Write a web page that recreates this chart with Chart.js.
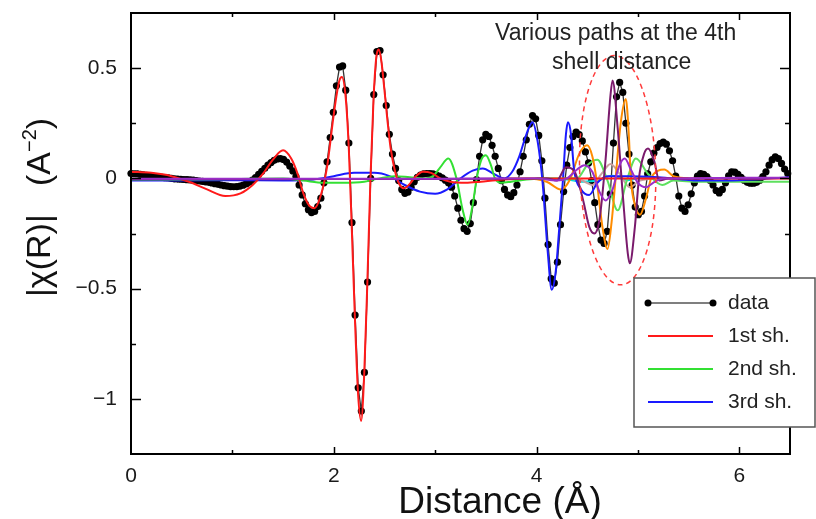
<!DOCTYPE html>
<html>
<head>
<meta charset="utf-8">
<script src="https://cdn.jsdelivr.net/npm/chart.js@4.4.1/dist/chart.umd.min.js"></script>
<style>
  html, body { margin: 0; padding: 0; background: #fff; }
  canvas { display: block; }
</style>
</head>
<body>
<canvas id="chart" width="816" height="519"></canvas>
<script>
// measured |chi(R)|, sampled every R_STEP angstrom starting at 0
const R_STEP = 0.0307;
const chiData = [
  0.022, 0.021, 0.020, 0.018, 0.016, 0.014, 0.012, 0.010, 0.008, 0.006,
  0.005, 0.003, 0.002, 0.000, -0.002, -0.003, -0.004, -0.005, -0.006, -0.007,
  -0.008, -0.010, -0.012, -0.014, -0.016, -0.018, -0.021, -0.024, -0.027, -0.030,
  -0.033, -0.035, -0.037, -0.038, -0.037, -0.035, -0.031, -0.025, -0.018, -0.008,
  0.004, 0.018, 0.032, 0.046, 0.060, 0.072, 0.082, 0.088, 0.090, 0.086,
  0.074, 0.056, 0.034, 0.008, -0.030, -0.075, -0.115, -0.142, -0.155, -0.150,
  -0.128, -0.090, -0.020, 0.075, 0.185, 0.300, 0.420, 0.505, 0.510, 0.400,
  0.160, -0.200, -0.620, -0.950, -1.055, -0.880, -0.470, 0.000, 0.380, 0.575,
  0.580, 0.470, 0.330, 0.200, 0.110, 0.045, -0.010, -0.050, -0.068, -0.062,
  -0.040, -0.015, 0.005, 0.015, 0.020, 0.022, 0.022, 0.020, 0.016, 0.010,
  0.002, -0.008, -0.020, -0.040, -0.080, -0.135, -0.190, -0.228, -0.240, -0.205,
  -0.110, -0.005, 0.100, 0.175, 0.200, 0.190, 0.150, 0.100, 0.045, -0.010,
  -0.050, -0.075, -0.083, -0.065, -0.030, 0.030, 0.100, 0.175, 0.245, 0.285,
  0.270, 0.195, 0.080, -0.090, -0.300, -0.455, -0.475, -0.380, -0.210, -0.060,
  0.060, 0.140, 0.190, 0.210, 0.198, 0.170, 0.120, 0.070, -0.010, -0.110,
  -0.210, -0.280, -0.295, -0.240, -0.070, 0.160, 0.370, 0.435, 0.390, 0.250,
  0.110, -0.030, -0.130, -0.165, -0.150, -0.080, 0.020, 0.075, 0.115, 0.140,
  0.158, 0.165, 0.155, 0.125, 0.080, 0.010, -0.080, -0.135, -0.150, -0.120,
  -0.070, -0.020, 0.010, 0.022, 0.018, 0.008, -0.008, -0.030, -0.055, -0.066,
  -0.050, -0.020, 0.012, 0.030, 0.028, 0.018, 0.005, -0.008, -0.018, -0.022,
  -0.022, -0.018, -0.008, 0.008, 0.030, 0.060, 0.085, 0.098, 0.090, 0.068,
  0.042, 0.022
];

// fitted shells
const shell1R = [0, 0.2, 0.4, 0.6, 0.75, 0.93, 1.08, 1.2, 1.3, 1.4, 1.5, 1.58, 1.64, 1.70, 1.76, 1.81, 1.87, 1.933, 1.994, 2.025, 2.056, 2.08, 2.117, 2.148, 2.178, 2.209, 2.24, 2.27, 2.301, 2.332, 2.362, 2.393, 2.424, 2.445, 2.47, 2.5, 2.53, 2.56, 2.6, 2.64, 2.69, 2.75, 2.8, 2.88, 2.96, 3.05, 3.15, 3.3, 3.45, 3.6, 3.8, 4.0, 4.3, 5.0, 6.5];
const shell1Chi = [0.03, 0.025, 0.01, -0.02, -0.05, -0.08, -0.068, -0.03, 0.02, 0.085, 0.127, 0.09, 0.025, -0.068, -0.125, -0.135, -0.08, 0.05, 0.27, 0.37, 0.445, 0.46, 0.37, 0.14, -0.23, -0.64, -0.98, -1.10, -0.88, -0.46, 0.0, 0.37, 0.565, 0.585, 0.53, 0.40, 0.26, 0.14, 0.04, -0.02, -0.045, -0.025, 0.005, 0.03, 0.025, 0.0, -0.015, -0.02, -0.015, -0.008, -0.003, 0, 0, 0, 0];

const shell2R = [0, 0.5, 1.0, 1.5, 1.7, 1.9, 2.1, 2.3, 2.45, 2.6, 2.75, 2.9, 2.98, 3.05, 3.13, 3.21, 3.27, 3.32, 3.37, 3.41, 3.46, 3.50, 3.55, 3.59, 3.65, 3.75, 3.9, 4.1, 4.3, 4.4];
const shell2Chi = [-0.005, -0.005, -0.003, 0.0, -0.01, -0.02, -0.02, -0.015, 0.0, 0.01, 0.005, 0.0, 0.01, 0.05, 0.09, 0.0, -0.14, -0.21, -0.12, 0.0, 0.09, 0.105, 0.06, 0.0, -0.02, -0.015, -0.005, 0.0, 0.0, 0.0];

const shell3R = [0, 0.5, 1.0, 1.5, 1.8, 2.0, 2.2, 2.4, 2.55, 2.7, 2.85, 3.0, 3.12, 3.25, 3.37, 3.47, 3.58, 3.68, 3.76, 3.83, 3.9, 3.96, 4.01, 4.06, 4.11, 4.15, 4.19, 4.22, 4.26, 4.29, 4.31, 4.34, 4.37, 4.44, 4.52, 4.6, 4.7, 4.9, 5.2, 5.6, 6.0, 6.5];
const shell3Chi = [-0.01, -0.01, -0.008, -0.01, -0.005, 0.01, 0.025, 0.025, 0.01, -0.03, -0.06, -0.07, -0.05, 0.0, 0.035, 0.045, 0.02, 0.0, 0.03, 0.10, 0.2, 0.255, 0.17, -0.02, -0.33, -0.505, -0.42, -0.25, -0.01, 0.2, 0.255, 0.2, 0.04, -0.05, -0.075, -0.02, 0.01, 0.01, 0.005, -0.01, -0.008, 0.005];

// single scattering / multiple scattering paths of the 4th shell
const pathLimeR = [4.3, 4.4, 4.5, 4.6, 4.7, 4.8, 4.89, 4.98, 5.1, 5.24, 5.35, 5.6, 6.5];
const pathLimeChi = [0, 0.0, 0.06, 0.085, -0.01, -0.145, -0.01, 0.09, 0.02, -0.03, -0.01, -0.015, -0.015];

const pathOrangeR = [3.7, 3.9, 4.1, 4.24, 4.33, 4.42, 4.50, 4.55, 4.59, 4.65, 4.70, 4.74, 4.78, 4.83, 4.88, 4.91, 4.93, 4.97, 5.02, 5.08, 5.13, 5.2, 5.26, 5.35, 5.5];
const pathOrangeChi = [0, 0, -0.015, -0.05, -0.005, 0.11, 0.15, 0.10, 0.0, -0.22, -0.32, -0.2, 0.0, 0.25, 0.36, 0.2, 0.0, -0.12, -0.165, -0.09, 0.0, 0.035, 0.04, 0.01, 0];

const pathPlumR = [0, 1.0, 2.0, 3.0, 4.1, 4.2, 4.29, 4.37, 4.46, 4.52, 4.57, 4.62, 4.68, 4.73, 4.75, 4.80, 4.85, 4.90, 4.92, 4.97, 5.01, 5.06, 5.10, 5.16, 5.21, 5.3, 5.5, 6.0, 6.5];
const pathPlumChi = [-0.004, -0.004, -0.003, -0.003, 0, -0.01, 0.05, 0.035, -0.1, -0.22, -0.25, -0.19, 0.08, 0.38, 0.444, 0.23, -0.07, -0.34, -0.385, -0.22, 0.0, 0.11, 0.135, 0.08, -0.01, 0.0, 0, 0.002, 0.002];

const pathVioletR = [0, 1.0, 2.0, 3.0, 4.0, 4.2, 4.3, 4.4, 4.47, 4.55, 4.62, 4.68, 4.75, 4.81, 4.87, 4.93, 5.0, 5.08, 5.15, 5.25, 5.4, 6.0, 6.5];
const pathVioletChi = [-0.002, -0.002, -0.002, -0.002, 0, -0.01, 0.0, 0.04, 0.06, 0.03, -0.06, -0.1, -0.05, 0.05, 0.09, 0.04, -0.02, -0.04, -0.02, 0.0, 0, 0.003, 0.003];

const pathCyanR = [4.0, 4.3, 4.45, 4.6, 4.75, 4.9, 5.05, 5.3];
const pathCyanChi = [0, -0.005, -0.015, -0.01, 0.012, -0.008, 0.004, 0];

const pathRosyR = [4.3, 4.45, 4.55, 4.64, 4.73, 4.82, 4.92, 5.02, 5.2];
const pathRosyChi = [0, -0.01, -0.03, 0.02, 0.065, 0.02, -0.04, -0.01, 0];

// ring drawn round the 4th shell paths (data units)
const ringCenter = [4.80, 0.037];
const ringRadius = [0.375, 0.52];

const legendNames = ['data', '1st sh.', '2nd sh.', '3rd sh.'];

function zip(xs, ys) {
  return xs.map((x, i) => ({ x: x, y: ys[i] }));
}

const dataPoints = chiData.map((v, i) => ({ x: +(i * R_STEP).toFixed(4), y: v }));

function fitLine(label, xs, ys, color, order) {
  return {
    label: label,
    data: zip(xs, ys),
    showLine: true,
    borderColor: color,
    borderWidth: 2,
    pointRadius: 0,
    cubicInterpolationMode: 'monotone',
    order: order || 0
  };
}

const fontFamily = '"Liberation Sans", Arial, Helvetica, sans-serif';

const decorPlugin = {
  id: 'decor',
  afterDatasetsDraw(chart) {
    const { ctx, scales: { x, y } } = chart;
    const cx = x.getPixelForValue(ringCenter[0]);
    const cy = y.getPixelForValue(ringCenter[1]);
    const rx = Math.abs(x.getPixelForValue(ringRadius[0]) - x.getPixelForValue(0));
    const ry = Math.abs(y.getPixelForValue(ringRadius[1]) - y.getPixelForValue(0));
    ctx.save();
    ctx.strokeStyle = '#ff3b3b';
    ctx.lineWidth = 1.5;
    ctx.setLineDash([5, 4]);
    ctx.beginPath();
    ctx.ellipse(cx, cy, rx, ry, -0.03, 0, Math.PI * 2);
    ctx.stroke();
    ctx.restore();
  },
  afterDraw(chart) {
    const { ctx, chartArea: a, scales: { x, y } } = chart;
    ctx.save();

    // frame
    ctx.strokeStyle = '#000';
    ctx.lineWidth = 2;
    ctx.strokeRect(a.left, a.top, a.right - a.left, a.bottom - a.top);

    // inward tick marks on all four sides
    ctx.lineWidth = 1.5;
    ctx.beginPath();
    x.ticks.forEach(t => {
      const v = t.value;
      if (!Number.isInteger(v) || v <= x.min || v >= x.max) return;
      const len = v % 2 === 0 ? 7 : 4;
      const px = Math.round(x.getPixelForValue(v)) + 0.5;
      ctx.moveTo(px, a.bottom); ctx.lineTo(px, a.bottom - len);
      ctx.moveTo(px, a.top); ctx.lineTo(px, a.top + len);
    });
    y.ticks.forEach(t => {
      const v = t.value;
      if (v <= y.min || v >= y.max) return;
      const major = Math.abs(v * 2 - Math.round(v * 2)) < 1e-9;
      const len = major ? 10 : 5;
      const py = Math.round(y.getPixelForValue(v)) + 0.5;
      ctx.moveTo(a.left, py); ctx.lineTo(a.left + len, py);
      ctx.moveTo(a.right, py); ctx.lineTo(a.right - len, py);
    });
    ctx.stroke();

    // note above the ring
    ctx.fillStyle = '#222';
    ctx.font = '23px ' + fontFamily;
    ctx.textAlign = 'center';
    ctx.textBaseline = 'middle';
    ctx.fillText('Various paths at the 4th', x.getPixelForValue(4.78), y.getPixelForValue(0.655));
    ctx.fillText('shell distance', x.getPixelForValue(4.84), y.getPixelForValue(0.525));

    // x axis title
    ctx.fillStyle = '#111';
    ctx.font = '37px ' + fontFamily;
    ctx.textAlign = 'center';
    ctx.textBaseline = 'alphabetic';
    ctx.fillText('Distance (\u00c5)', 500, 513);

    // y axis title, rotated, with a raised exponent
    ctx.save();
    ctx.translate(50, 297);
    ctx.rotate(-Math.PI / 2);
    ctx.textAlign = 'left';
    const pieces = [
      ['|\u03c7(R)|   (A', 34, 0],
      ['\u22122', 20, -14],
      [')', 34, 0]
    ];
    let cursor = 0;
    pieces.forEach(p => {
      ctx.font = p[1] + 'px ' + fontFamily;
      ctx.fillText(p[0], cursor, p[2]);
      cursor += ctx.measureText(p[0]).width;
    });
    ctx.restore();

    // legend box
    const box = { left: 634, top: 278, right: 815, bottom: 427 };
    ctx.fillStyle = '#fff';
    ctx.fillRect(box.left, box.top, box.right - box.left, box.bottom - box.top);
    ctx.strokeStyle = '#555';
    ctx.lineWidth = 1.5;
    ctx.strokeRect(box.left, box.top, box.right - box.left, box.bottom - box.top);
    const rows = [303, 336, 369, 402];
    ctx.font = '21px ' + fontFamily;
    ctx.textAlign = 'left';
    ctx.textBaseline = 'middle';
    legendNames.forEach((name, i) => {
      const ds = chart.data.datasets[i];
      const yy = rows[i];
      ctx.beginPath();
      ctx.moveTo(648, yy); ctx.lineTo(713, yy);
      ctx.strokeStyle = i === 0 ? '#555' : ds.borderColor;
      ctx.lineWidth = i === 0 ? 1.5 : 2;
      ctx.stroke();
      if (i === 0) {
        ctx.fillStyle = '#000';
        [648, 713].forEach(px => {
          ctx.beginPath();
          ctx.arc(px, yy, 3.5, 0, Math.PI * 2);
          ctx.fill();
        });
      }
      ctx.fillStyle = '#222';
      ctx.fillText(name, 728, yy);
    });

    ctx.restore();
  }
};

function yLabel(v) {
  if (Math.abs(v * 2 - Math.round(v * 2)) > 1e-9) return '';
  if (v === 0) return '0';
  return (v < 0 ? '\u2212' : '') + Math.abs(v);
}

const ctx = document.getElementById('chart').getContext('2d');

const chart = new Chart(ctx, {
  type: 'scatter',
  data: {
    datasets: [
      {
        label: legendNames[0],
        data: dataPoints,
        showLine: true,
        borderColor: '#333',
        borderWidth: 1.3,
        pointRadius: 3.6,
        pointBackgroundColor: '#000',
        pointBorderWidth: 0,
        order: 5,
        clip: 4
      },
      fitLine(legendNames[1], shell1R, shell1Chi, '#ff1a1a', 0),
      fitLine(legendNames[2], shell2R, shell2Chi, '#33e033', 1),
      fitLine(legendNames[3], shell3R, shell3Chi, '#1a1aff', 1),
      fitLine('path a', pathLimeR, pathLimeChi, '#5ee05e', 2),
      fitLine('path b', pathRosyR, pathRosyChi, '#c9a0a0', 2),
      fitLine('path c', pathCyanR, pathCyanChi, '#00dcdc', 2),
      fitLine('path d', pathOrangeR, pathOrangeChi, '#ff8c00', 1),
      fitLine('path e', pathVioletR, pathVioletChi, '#9a2ec8', -1),
      fitLine('path f', pathPlumR, pathPlumChi, '#7a1a6c', -1)
    ]
  },
  options: {
    responsive: false,
    animation: false,
    layout: { padding: { top: 13, right: 26, left: 0, bottom: 0 } },
    plugins: {
      legend: { display: false },
      tooltip: { enabled: false }
    },
    scales: {
      x: {
        type: 'linear',
        min: 0,
        max: 6.5,
        afterFit(scale) {
          scale.height = 65;
          scale.paddingLeft = 0;
          scale.paddingRight = 0;
        },
        grid: { display: false, drawTicks: false },
        border: { display: false },
        ticks: {
          stepSize: 1,
          includeBounds: false,
          autoSkip: false,
          maxRotation: 0,
          padding: 10,
          color: '#1a1a1a',
          font: { size: 21, family: fontFamily },
          callback: v => (Number.isInteger(v) && v % 2 === 0) ? String(v) : ''
        }
      },
      y: {
        type: 'linear',
        min: -1.25,
        max: 0.75,
        afterFit(scale) {
          scale.width = 131;
          scale.paddingTop = 0;
          scale.paddingBottom = 0;
        },
        grid: { display: false, drawTicks: false },
        border: { display: false },
        ticks: {
          stepSize: 0.25,
          autoSkip: false,
          padding: 14,
          color: '#1a1a1a',
          font: { size: 21, family: fontFamily },
          callback: yLabel
        }
      }
    }
  },
  plugins: [decorPlugin]
});
</script>
</body>
</html>
